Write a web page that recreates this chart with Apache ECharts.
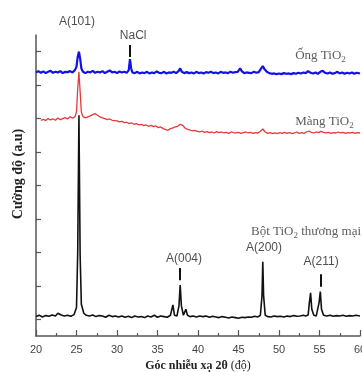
<!DOCTYPE html>
<html><head><meta charset="utf-8">
<script src="https://cdn.jsdelivr.net/npm/echarts@6/dist/echarts.min.js"></script>
<style>html,body{margin:0;padding:0;background:#fff}#c{width:362px;height:372px}</style>
</head><body><div id="c"></div>
<script>
// Commercial TiO2 powder (black)
const blackX = [20.0,20.4,20.8,21.2,21.6,22.0,22.4,22.7,22.9,23.1,23.5,23.9,24.3,24.7,25.0,25.15,25.3,25.45,25.6,25.9,26.2,26.6,27.0,27.4,27.8,28.2,28.6,29.0,29.4,29.8,30.2,30.6,31.0,31.4,31.8,32.2,32.6,33.0,33.4,33.8,34.2,34.6,35.0,35.4,35.8,36.2,36.6,36.9,37.1,37.4,37.65,37.8,37.95,38.2,38.5,38.7,39.0,39.4,39.8,40.2,40.6,41.0,41.4,41.8,42.2,42.6,43.0,43.4,43.8,44.2,44.6,45.0,45.4,45.8,46.2,46.6,47.0,47.4,47.7,47.9,48.0,48.1,48.3,48.6,49.0,49.4,49.8,50.2,50.6,51.0,51.4,51.8,52.2,52.6,53.0,53.3,53.6,53.75,53.9,54.05,54.3,54.6,54.8,54.95,55.1,55.25,55.5,55.9,56.3,56.7,57.1,57.5,57.9,58.3,58.7,59.1,59.5,60.0];
const blackY = [0.58,0.62,0.57,0.61,0.59,0.63,0.6,0.68,0.72,0.63,0.6,0.62,0.59,0.64,0.85,2.5,6.6,2.4,0.95,0.68,0.62,0.6,0.63,0.58,0.61,0.6,0.56,0.62,0.58,0.6,0.57,0.6,0.56,0.59,0.55,0.6,0.57,0.58,0.55,0.6,0.57,0.62,0.56,0.6,0.58,0.56,0.62,0.93,0.62,0.6,0.9,1.52,0.9,0.62,0.8,0.62,0.58,0.6,0.57,0.6,0.58,0.6,0.56,0.59,0.57,0.55,0.58,0.56,0.54,0.57,0.55,0.53,0.56,0.55,0.57,0.56,0.59,0.57,0.62,1.2,2.22,1.2,0.62,0.58,0.57,0.6,0.58,0.59,0.57,0.6,0.58,0.61,0.59,0.6,0.62,0.6,0.63,1.0,1.29,0.8,0.62,0.6,0.64,1.0,1.33,0.8,0.62,0.6,0.62,0.59,0.61,0.6,0.62,0.59,0.61,0.6,0.62,0.6];
// TiO2 tubes (blue)
const blueX = [20.0,20.3,20.6,20.9,21.2,21.5,21.8,22.1,22.4,22.7,23.0,23.3,23.6,23.9,24.2,24.5,24.8,25.0,25.15,25.3,25.45,25.6,25.8,26.1,26.4,26.7,27.0,27.3,27.6,27.9,28.2,28.5,28.8,29.1,29.4,29.7,30.0,30.3,30.6,30.9,31.2,31.45,31.6,31.75,31.9,32.2,32.5,32.8,33.1,33.4,33.7,34.0,34.3,34.6,34.9,35.2,35.5,35.8,36.1,36.4,36.7,37.0,37.3,37.6,37.8,38.0,38.3,38.6,38.9,39.2,39.5,39.8,40.1,40.4,40.7,41.0,41.3,41.6,41.9,42.2,42.5,42.8,43.1,43.4,43.7,44.0,44.3,44.6,44.9,45.2,45.4,45.7,46.0,46.3,46.6,46.9,47.2,47.5,47.8,48.0,48.2,48.5,48.8,49.1,49.4,49.7,50.0,50.3,50.6,50.9,51.2,51.5,51.8,52.1,52.4,52.7,53.0,53.3,53.6,53.9,54.2,54.5,54.8,55.1,55.4,55.7,56.0,56.3,56.6,56.9,57.2,57.5,57.8,58.1,58.4,58.7,59.0,59.3,59.6,60.0];
const blueY = [7.88,7.92,7.87,7.91,7.86,7.9,7.93,7.87,7.9,7.88,7.92,7.86,7.9,7.89,7.92,7.88,7.95,8.05,8.35,8.5,8.3,8.0,7.9,7.86,7.9,7.88,7.93,7.87,7.9,7.88,7.92,7.86,7.9,7.94,7.88,7.9,7.86,7.91,7.88,7.9,7.87,7.95,8.28,8.0,7.88,7.86,7.9,7.85,7.88,7.86,7.9,7.85,7.88,7.86,7.91,7.87,7.86,7.9,7.85,7.88,7.87,7.9,7.86,7.92,8.0,7.9,7.86,7.89,7.86,7.88,7.85,7.9,7.86,7.88,7.85,7.89,7.87,7.9,7.86,7.88,7.85,7.9,7.87,7.88,7.86,7.9,7.87,7.89,7.9,8.0,7.92,7.86,7.88,7.87,7.86,7.9,7.87,7.89,8.0,8.07,7.98,7.9,7.86,7.84,7.85,7.83,7.85,7.83,7.86,7.84,7.85,7.83,7.86,7.84,7.87,7.85,7.88,7.86,7.92,7.87,7.85,7.88,7.84,7.9,7.93,7.87,7.85,7.88,7.84,7.86,7.9,7.85,7.88,7.84,7.87,7.85,7.88,7.84,7.87,7.85];
// TiO2 film (red)
const redX = [20.6,20.9,21.2,21.5,21.8,22.1,22.4,22.7,23.0,23.3,23.6,23.9,24.2,24.5,24.8,25.0,25.15,25.3,25.45,25.6,25.8,26.1,26.4,26.7,27.0,27.3,27.6,27.9,28.2,28.5,28.8,29.1,29.4,29.7,30.0,30.3,30.6,30.9,31.2,31.5,31.8,32.1,32.4,32.7,33.0,33.3,33.6,33.9,34.2,34.5,34.8,35.1,35.4,35.7,36.0,36.3,36.6,36.9,37.2,37.5,37.8,38.1,38.4,38.7,39.0,39.3,39.6,39.9,40.2,40.5,40.8,41.1,41.4,41.7,42.0,42.3,42.6,42.9,43.2,43.5,43.8,44.1,44.4,44.7,45.0,45.3,45.6,45.9,46.2,46.5,46.8,47.1,47.4,47.7,48.0,48.3,48.6,48.9,49.2,49.5,49.8,50.1,50.4,50.7,51.0,51.3,51.6,51.9,52.2,52.5,52.8,53.1,53.4,53.7,54.0,54.3,54.6,54.9,55.2,55.5,55.8,56.1,56.4,56.7,57.0,57.3,57.6,57.9,58.2,58.5,58.8,59.1,59.4,59.7,60.0];
const redY = [6.45,6.48,6.44,6.5,6.46,6.49,6.45,6.52,6.47,6.5,6.53,6.49,6.56,6.51,6.55,6.7,7.4,7.9,7.3,6.7,6.56,6.52,6.55,6.58,6.62,6.65,6.6,6.55,6.52,6.5,6.47,6.49,6.45,6.44,6.43,6.4,6.42,6.38,6.39,6.35,6.37,6.33,6.35,6.31,6.33,6.29,6.31,6.27,6.3,6.26,6.28,6.23,6.25,6.2,6.17,6.15,6.2,6.22,6.25,6.27,6.33,6.3,6.22,6.18,6.16,6.13,6.15,6.12,6.1,6.13,6.09,6.11,6.08,6.1,6.07,6.11,6.08,6.1,6.07,6.09,6.06,6.1,6.08,6.07,6.09,6.06,6.08,6.1,6.07,6.09,6.06,6.08,6.07,6.12,6.19,6.1,6.06,6.08,6.05,6.07,6.05,6.08,6.06,6.09,6.06,6.08,6.05,6.07,6.1,6.06,6.08,6.06,6.1,6.13,6.09,6.07,6.1,6.08,6.12,6.09,6.07,6.09,6.06,6.08,6.07,6.1,6.07,6.09,6.06,6.08,6.07,6.09,6.06,6.08,6.07];
// peak annotations
const peakLabels = ['A(101)','NaCl','A(004)','A(200)','A(211)'];
const peakLabelX = [25.05,32.0,38.27,48.15,55.2];
const peakLabelY = [9.39,8.97,2.3,2.63,2.21];
const markerX = [25.3,31.6,37.8,55.1];
const markerTop = [9.15,8.70,2.03,1.85];
const markerBottom = [8.70,8.34,1.67,1.47];
// curve titles
const curveTitles = ['{n|Ống TiO}{s|2}','{n|Màng TiO}{s|2}','{m|Bột TiO}{t|2}{m| thương mại}'];
const curveTitleX = [52.0,52.0,46.54];
const curveTitleY = [8.37,6.4,3.12];
const xTicks = {min:20,max:60,interval:5};

const zip = (xs, ys) => xs.map((x, i) => [x, ys[i]]);
const serif = 'Liberation Serif';
const chart = echarts.init(document.getElementById('c'));
chart.setOption({
  animation:false,
  grid:{left:36,right:2,top:35,bottom:36,containLabel:false,outerBoundsMode:'none'},
  xAxis:{type:'value',min:xTicks.min,max:xTicks.max,interval:xTicks.interval,
    axisLine:{lineStyle:{color:'#555',width:1.5}},
    axisTick:{inside:true,length:6,lineStyle:{color:'#555',width:1.2}},
    minorTick:{show:true,splitNumber:2,length:3,lineStyle:{color:'#555',width:1.2}},
    splitLine:{show:false},
    axisLabel:{color:'#444',fontFamily:'Liberation Sans',fontSize:11,margin:8},
    name:'{b|Góc nhiễu xạ 2θ}{r| (độ)}',nameLocation:'middle',nameGap:21,
    nameTextStyle:{rich:{b:{fontFamily:serif,fontWeight:'bold',fontSize:12,color:'#222'},r:{fontFamily:serif,fontSize:12,color:'#222'}}}
  },
  yAxis:{type:'value',min:0,max:9,interval:1,
    axisLine:{show:true,lineStyle:{color:'#555',width:1.5}},
    axisTick:{show:false,inside:true},
    minorTick:{show:true,splitNumber:2,length:5,lineStyle:{color:'#555',width:1.2}},
    splitLine:{show:false},minorSplitLine:{show:false},
    axisLabel:{show:false}
  },
  graphic:[{type:'text',x:18,y:174,rotation:Math.PI/2,
    style:{text:'Cường độ (a.u)',font:'bold 14px "Liberation Serif"',fill:'#222',align:'center',verticalAlign:'middle'}}],
  series:[
    {type:'line',data:zip(blackX,blackY),showSymbol:false,lineStyle:{color:'#111',width:1.6},z:2},
    {type:'line',data:zip(redX,redY),showSymbol:false,lineStyle:{color:'#e8383c',width:1.3},z:3},
    {type:'line',data:zip(blueX,blueY),showSymbol:false,lineStyle:{color:'#1212e6',width:2.2},z:4},
    {type:'scatter',symbolSize:0,clip:false,silent:true,z:5,
      data:zip(peakLabelX,peakLabelY).map((p,i)=>({value:p,name:peakLabels[i]})),
      label:{show:true,position:'inside',formatter:p=>p.name,color:'#222',fontFamily:'Liberation Sans',fontSize:12},
      markLine:{silent:true,symbol:'none',animation:false,
        lineStyle:{color:'#111',width:2,type:'solid'},label:{show:false},
        data:markerX.map((x,i)=>[{coord:[x,markerTop[i]]},{coord:[x,markerBottom[i]]}])}
    },
    {type:'scatter',symbolSize:0,clip:false,silent:true,z:5,
      data:zip(curveTitleX,curveTitleY).map((p,i)=>({value:p,name:curveTitles[i]})),
      label:{show:true,position:'inside',align:'left',formatter:p=>p.name,
        rich:{n:{fontFamily:serif,fontSize:13,color:'#333'},s:{fontFamily:serif,fontSize:9,color:'#333',padding:[8,0,0,0]},
              m:{fontFamily:serif,fontSize:13,color:'#333'},t:{fontFamily:serif,fontSize:9,color:'#333',padding:[7,0,0,0]}}}
    }
  ]
});
</script></body></html>
